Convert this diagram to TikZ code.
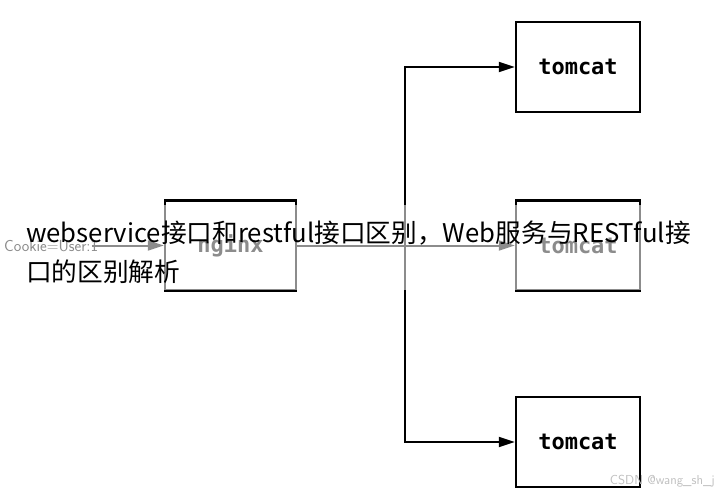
\documentclass[tikz,border=0pt]{standalone}
\usepackage{fontspec}
\setmonofont{DejaVu Sans Mono}
\newfontfamily\cjk{Noto Sans CJK SC}
\usetikzlibrary{positioning,arrows.meta}
\tikzset{
  server/.style={draw,line width=2.4pt,minimum width=124pt,minimum height=90pt,font=\ttfamily\bfseries\fontsize{22}{22}\selectfont},
  link/.style={line width=2pt,-{Triangle[length=16pt,width=10pt]}}
}
\begin{document}
\begin{tikzpicture}[x=1pt,y=-1pt]
	\useasboundingbox (0,0) rectangle (715,490);
	\node[server,minimum width=131pt] (nginx) at (230.5,245.5) {nginx};
	\node[server] (tc1) at (578,67) {tomcat};
	\node[server] (tc2) at (578,245.5) {tomcat};
	\node[server] (tc3) at (578,442) {tomcat};
	\node[anchor=west,font=\sffamily\fontsize{16}{16}\selectfont,inner sep=0pt] (cookie) at (4,246) {Cookie=User:1};
	\coordinate (split) at (405,245.5);
	
	\draw[link] ([xshift=-72pt]nginx.west) -- (nginx.west);
	\draw[link] (nginx.east) -- (tc2.west);
	\draw[link] (split) |- (tc1.west);
	\draw[link] (split) |- (tc3.west);
	
	% overlaid caption
	\fill[white,opacity=0.55] (0,205) rectangle (715,290);
	\node[anchor=west,font=\cjk\fontsize{25.7}{25.7}\selectfont,inner sep=0pt] (title1) at (26,233) {webservice接口和restful接口区别，Web服务与RESTful接};
	\node[anchor=west,font=\cjk\fontsize{25.7}{25.7}\selectfont,inner sep=0pt] (title2) at (26,272) {口的区别解析};
	\node[anchor=east,text=black!25,font=\sffamily\fontsize{13}{13}\selectfont,inner sep=0pt] (mark) at (715,481) {CSDN @wang\_sh\_j};
\end{tikzpicture}
\end{document}
